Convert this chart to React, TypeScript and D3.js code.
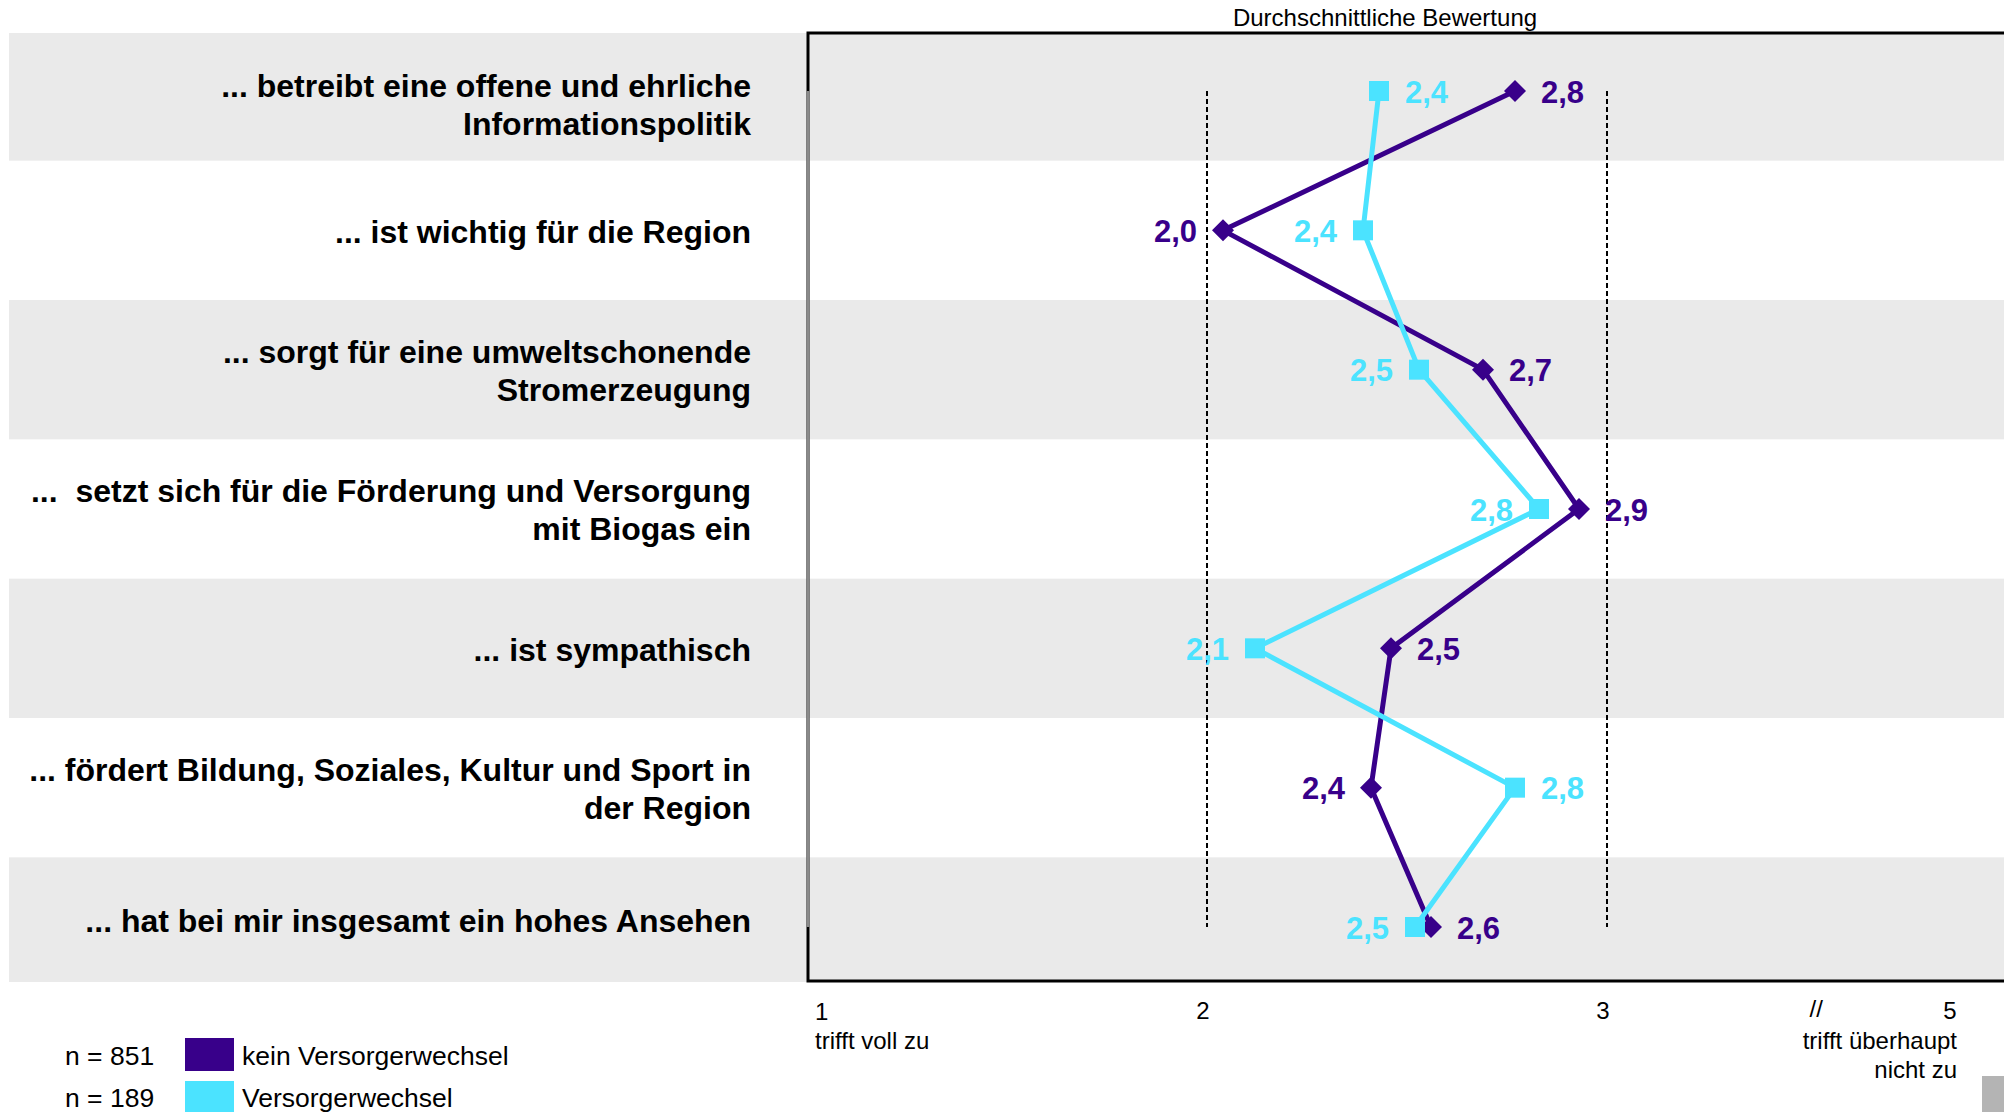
import React from "react";
import * as d3 from "d3";

// Statements rated on a 1..5 scale (1 = trifft voll zu, 5 = trifft überhaupt nicht zu)
const categories = [
  "... betreibt eine offene und ehrliche\nInformationspolitik",
  "... ist wichtig für die Region",
  "... sorgt für eine umweltschonende\nStromerzeugung",
  "...  setzt sich für die Förderung und Versorgung\nmit Biogas ein",
  "... ist sympathisch",
  "... fördert Bildung, Soziales, Kultur und Sport in\nder Region",
  "... hat bei mir insgesamt ein hohes Ansehen",
];

// Mean ratings per group
const keinWechsel = [2.77, 2.04, 2.69, 2.93, 2.46, 2.41, 2.56];
const wechsel = [2.43, 2.39, 2.53, 2.83, 2.12, 2.77, 2.52];

// Which side of the marker each value label sits on
const keinLabelSide = ["right", "left", "right", "right", "right", "left", "right"];
const wechselLabelSide = ["right", "left", "left", "left", "left", "right", "left"];

const seriesNames = ["kein Versorgerwechsel", "Versorgerwechsel"];
const sampleSizes = ["n = 851", "n = 189"];
const axisTicks = [1, 2, 3, 5];
const guideValues = [2, 3];
const axisTitle = "Durchschnittliche Bewertung";
const scaleLow = "trifft voll zu";
const scaleHigh = ["trifft überhaupt", "nicht zu"];

const W = 2004;
const H = 1112;
const FONT = "'Liberation Sans', Arial, Helvetica, sans-serif";
const PURPLE = "#38008a";
const CYAN = "#4be3ff";
const BAND = "#eaeaea";

const frameLeft = 808;
const frameTop = 33;
const frameBottom = 981;

// Broken value axis: 1..3 linear, compressed stretch up to 5
const x = d3.scaleLinear().domain([1, 3, 5]).range([807, 1607, 1950]);
const y = d3.scalePoint<string>().domain(categories).range([91, 927]);

const fmt = (v: number) => d3.format(".1f")(v).replace(".", ",");

export default function App() {
  const ys = categories.map((c) => y(c) as number);
  const edges = [frameTop, ...ys.slice(1).map((v, i) => (v + ys[i]) / 2), 982];

  const line = d3
    .line<number>()
    .x((d) => x(d))
    .y((_, i) => ys[i]);

  const series = [
    { name: seriesNames[0], values: keinWechsel, color: PURPLE, side: keinLabelSide, shape: "diamond" },
    { name: seriesNames[1], values: wechsel, color: CYAN, side: wechselLabelSide, shape: "square" },
  ];

  const labelSize = 32;
  const labelLead = 38;
  const capH = labelSize * 0.716;
  const tickSize = 24;

  return (
    <svg
      width={W}
      height={H}
      viewBox={`0 0 ${W} ${H}`}
      style={{ position: "absolute", left: 0, top: 0, background: "#fff" }}
      fontFamily={FONT}
    >
      {/* alternating row bands */}
      {categories.map((c, i) =>
        i % 2 === 0 ? (
          <rect key={"b" + i} x={9} y={edges[i]} width={W - 9} height={edges[i + 1] - edges[i]} fill={BAND} />
        ) : null
      )}

      {/* plot frame */}
      <rect
        x={frameLeft}
        y={frameTop}
        width={W}
        height={frameBottom - frameTop}
        fill="none"
        stroke="#000"
        strokeWidth={3}
      />
      <line x1={frameLeft} x2={frameLeft} y1={ys[0]} y2={ys[ys.length - 1]} stroke="#8a8a8a" strokeWidth={3} />

      {/* reference lines */}
      {guideValues.map((g) => (
        <line
          key={"g" + g}
          x1={x(g)}
          x2={x(g)}
          y1={ys[0]}
          y2={ys[ys.length - 1]}
          stroke="#000"
          strokeWidth={2}
          strokeDasharray="5,3"
        />
      ))}

      {/* axis title */}
      <text x={1385} y={26} textAnchor="middle" fontSize={24} fill="#000">
        {axisTitle}
      </text>

      {/* category labels */}
      {categories.map((c, i) => {
        const lines = c.split("\n");
        const mid = (edges[i] + edges[i + 1]) / 2 + (i === 0 ? 8 : 1);
        const first = mid - ((lines.length - 1) * labelLead) / 2 + capH / 2;
        return (
          <text
            key={"c" + i}
            x={751}
            textAnchor="end"
            fontSize={labelSize}
            fontWeight="bold"
            fill="#000"
            style={{ whiteSpace: "pre" }}
          >
            {lines.map((l, j) => (
              <tspan key={j} x={751} y={first + j * labelLead}>
                {l}
              </tspan>
            ))}
          </text>
        );
      })}

      {/* series lines, markers */}
      {series.map((s) => (
        <g key={s.name}>
          <path d={line(s.values) || ""} fill="none" stroke={s.color} strokeWidth={5} strokeLinejoin="round" />
          {s.values.map((v, i) => {
            const cx = x(v);
            const cy = ys[i];
            return s.shape === "diamond" ? (
              <path
                key={"m" + i}
                d={`M${cx},${cy - 11}L${cx + 11},${cy}L${cx},${cy + 11}L${cx - 11},${cy}Z`}
                fill={s.color}
              />
            ) : (
              <rect key={"m" + i} x={cx - 10} y={cy - 10} width={20} height={20} fill={s.color} />
            );
          })}
        </g>
      ))}

      {/* value labels */}
      {series.map((s) =>
        s.values.map((v, i) => {
          const cx = x(v);
          const right = s.side[i] === "right";
          return (
            <text
              key={s.name + "l" + i}
              x={right ? cx + 26 : cx - 26}
              y={ys[i] + 11.5}
              textAnchor={right ? "start" : "end"}
              fontSize={31}
              fontWeight="bold"
              fill={s.color}
            >
              {fmt(v)}
            </text>
          );
        })
      )}

      {/* value axis labels */}
      {axisTicks.map((t) => {
        if (t === 1)
          return (
            <text key={"t" + t} x={x(t) + 8} y={1020} fontSize={tickSize} fill="#000">
              {t}
            </text>
          );
        return (
          <text
            key={"t" + t}
            x={t === 5 ? x(t) : x(t) - 4}
            y={1019}
            textAnchor="middle"
            fontSize={tickSize}
            fill="#000"
          >
            {t}
          </text>
        );
      })}
      <text x={x(4.22)} y={1017} textAnchor="middle" fontSize={tickSize} fill="#000">
        //
      </text>
      <text x={x(1) + 8} y={1049} fontSize={tickSize} fill="#000">
        {scaleLow}
      </text>
      {scaleHigh.map((l, j) => (
        <text key={"h" + j} x={x(5) + 7} y={1049 + j * 29} textAnchor="end" fontSize={tickSize} fill="#000">
          {l}
        </text>
      ))}

      {/* legend */}
      {series.map((s, i) => (
        <g key={"lg" + i}>
          <text x={65} y={1065 + i * 41.5} fontSize={26.5} fill="#000">
            {sampleSizes[i]}
          </text>
          <rect x={185} y={1038 + i * 43} width={49} height={33} fill={s.color} />
          <text x={242} y={1065 + i * 41.5} fontSize={26.5} fill="#000">
            {s.name}
          </text>
        </g>
      ))}

      {/* corner block */}
      <rect x={1982} y={1076} width={22} height={36} fill="#b4b4b4" />
    </svg>
  );
}
